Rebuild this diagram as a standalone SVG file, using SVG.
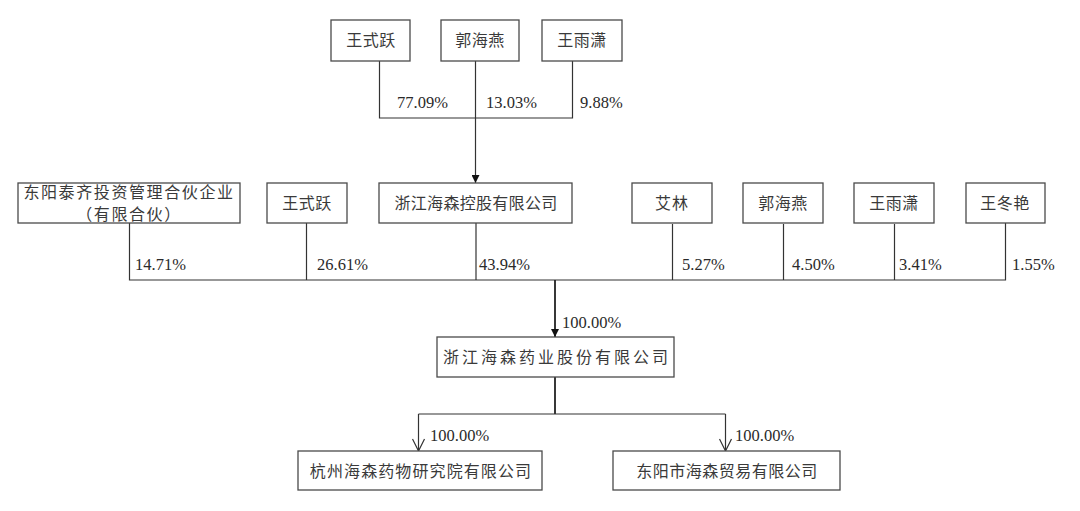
<svg xmlns="http://www.w3.org/2000/svg" width="1080" height="511" viewBox="0 0 1080 511">
<defs>
<style>
.box{fill:#fff;stroke:#4a4a4a;stroke-width:1.3}
.t{font-family:"Noto Sans CJK SC","Liberation Serif",sans-serif;font-size:16px;fill:#3a3a3a;text-anchor:middle}
.p{font-family:"Liberation Serif",serif;font-size:16.5px;fill:#2a2a2a}
.ln{fill:none;stroke:#333;stroke-width:1.2}
.lnb{fill:none;stroke:#222;stroke-width:1.8}
</style>
<marker id="fa" viewBox="0 0 10 10" refX="10" refY="5" markerWidth="8" markerHeight="8" markerUnits="userSpaceOnUse" orient="auto"><path d="M0,0 L10,5 L0,10 Z" fill="#111"/></marker>
<marker id="oa" viewBox="0 0 14 14" refX="13" refY="7" markerWidth="14" markerHeight="14" markerUnits="userSpaceOnUse" orient="auto"><path d="M1,1 L13,7 L1,13" fill="none" stroke="#333" stroke-width="1.2"/></marker>
</defs>
<rect width="1080" height="511" fill="#fff"/>

<g id="connectors">
<path class="ln" d="M379.5,61 V118 H572.5 V61"/>
<path class="ln" d="M475.5,61 V183" marker-end="url(#fa)"/>
<path class="ln" d="M129.5,223 V280 H1005.5 V223"/>
<path class="ln" d="M306.5,223 V280"/>
<path class="ln" d="M476,223 V280"/>
<path class="ln" d="M672.5,224 V280"/>
<path class="ln" d="M783.5,224 V280"/>
<path class="ln" d="M894.5,224 V280"/>
<path class="lnb" d="M555,280 V337" marker-end="url(#fa)"/>
<path class="lnb" d="M555,377 V414"/>
<path class="ln" d="M418.5,414 H725.5"/>
<path class="ln" d="M418.5,414 V451" marker-end="url(#oa)"/>
<path class="ln" d="M725.5,414 V451" marker-end="url(#oa)"/>
</g>

<g id="labels">
<text class="p" x="397" y="108">77.09%</text>
<text class="p" x="486" y="108">13.03%</text>
<text class="p" x="580" y="108">9.88%</text>
<text class="p" x="135" y="270">14.71%</text>
<text class="p" x="317" y="270">26.61%</text>
<text class="p" x="479" y="270">43.94%</text>
<text class="p" x="682" y="270">5.27%</text>
<text class="p" x="792" y="270">4.50%</text>
<text class="p" x="899" y="270">3.41%</text>
<text class="p" x="1012" y="270">1.55%</text>
<text class="p" x="562" y="328">100.00%</text>
<text class="p" x="430" y="441">100.00%</text>
<text class="p" x="735" y="441">100.00%</text>
</g>

<g id="n-top-wangshiyue"><rect class="box" x="331" y="20" width="79" height="41"/><text class="t" x="371" y="46" letter-spacing="0.5">王式跃</text></g>
<g id="n-top-guohaiyan"><rect class="box" x="441" y="20" width="78" height="41"/><text class="t" x="480" y="46" letter-spacing="0.5">郭海燕</text></g>
<g id="n-top-wangyuxiao"><rect class="box" x="542" y="20" width="80" height="41"/><text class="t" x="582" y="46" letter-spacing="0.5">王雨潇</text></g>

<g id="n-dongyang-taiqi"><rect class="box" x="18" y="183" width="222" height="40"/><text class="t" font-size="15" letter-spacing="1.6"><tspan x="129" y="198">东阳泰齐投资管理合伙企业</tspan><tspan x="129" y="220">（有限合伙）</tspan></text></g>
<g id="n-mid-wangshiyue"><rect class="box" x="267" y="183" width="80" height="40"/><text class="t" x="307" y="209" letter-spacing="0.5">王式跃</text></g>
<g id="n-haisen-holding"><rect class="box" x="379" y="183" width="193" height="40"/><text class="t" x="476" y="209" font-size="16.5" letter-spacing="0.3">浙江海森控股有限公司</text></g>
<g id="n-ailin"><rect class="box" x="632" y="183" width="80" height="40"/><text class="t" x="672" y="209" letter-spacing="1">艾林</text></g>
<g id="n-mid-guohaiyan"><rect class="box" x="743" y="183" width="80" height="40"/><text class="t" x="783" y="209" letter-spacing="0.5">郭海燕</text></g>
<g id="n-mid-wangyuxiao"><rect class="box" x="854" y="183" width="80" height="40"/><text class="t" x="894" y="209" letter-spacing="0.5">王雨潇</text></g>
<g id="n-wangdongyan"><rect class="box" x="966" y="183" width="79" height="40"/><text class="t" x="1005" y="209" letter-spacing="0.5">王冬艳</text></g>

<g id="n-haisen-pharma"><rect class="box" x="437" y="337" width="237" height="40"/><text class="t" x="557" y="363" font-size="17" letter-spacing="3">浙江海森药业股份有限公司</text></g>
<g id="n-hangzhou-institute"><rect class="box" x="298" y="451" width="244" height="39"/><text class="t" x="421" y="477" font-size="17" letter-spacing="1.1">杭州海森药物研究院有限公司</text></g>
<g id="n-dongyang-trade"><rect class="box" x="613" y="451" width="227" height="39"/><text class="t" x="727" y="477" letter-spacing="0.5">东阳市海森贸易有限公司</text></g>
</svg>
